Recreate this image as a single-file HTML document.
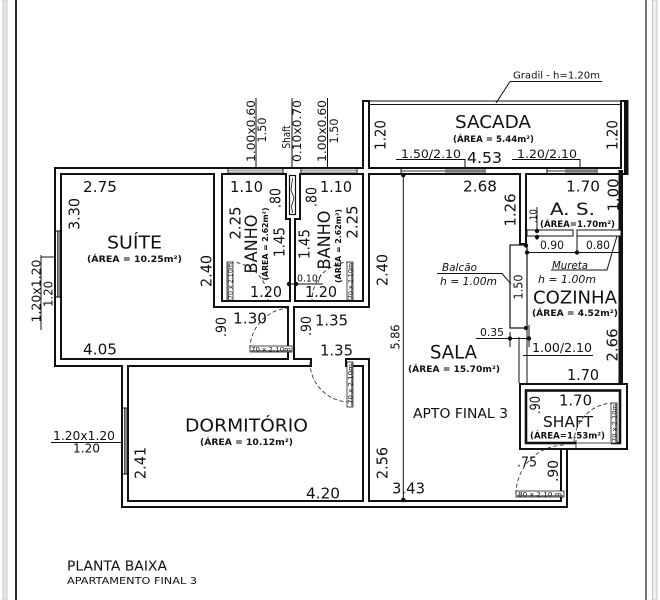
<!DOCTYPE html>
<html><head><meta charset="utf-8"><style>
html,body{margin:0;padding:0;background:#fff}
svg{display:block}
text{font-family:"DejaVu Sans","Liberation Sans",sans-serif;fill:#111}
.b{font-weight:bold}
.i{font-style:italic}
</style></head><body>
<svg width="660" height="600" viewBox="0 0 660 600" xmlns="http://www.w3.org/2000/svg">
<rect width="660" height="600" fill="#fff"/>
<!-- page borders -->
<rect x="3" y="0" width="4" height="600" fill="#e8e8e8" stroke="#bdbdbd" stroke-width="0.8"/>
<line x1="16" y1="0" x2="16" y2="600" stroke="#2a2a2a" stroke-width="2"/>
<line x1="646" y1="0" x2="646" y2="600" stroke="#444" stroke-width="1.5"/>
<rect x="652.5" y="0" width="4.5" height="600" fill="#efefef" stroke="#bbb" stroke-width="0.8"/>

<!-- walls black pass -->
<g fill="#111">
<rect x="54" y="167" width="574" height="8"/>
<rect x="54" y="167" width="8" height="200"/>
<rect x="54" y="358" width="258" height="9"/>
<rect x="213" y="167" width="10" height="141"/>
<rect x="213" y="300" width="157" height="8"/>
<rect x="289" y="167" width="7" height="141"/>
<rect x="362" y="100" width="8" height="208"/>
<rect x="345" y="358" width="25" height="9"/>
<rect x="362" y="358" width="8" height="150"/>
<rect x="121" y="358" width="8" height="150"/>
<rect x="121" y="500" width="447" height="8"/>
<rect x="560" y="448" width="8" height="60"/>
<rect x="519" y="167" width="8" height="78"/>
<rect x="519" y="383" width="109" height="67"/>
<rect x="287" y="300" width="8" height="67"/>
<rect x="285" y="167" width="16" height="53"/>
<rect x="620" y="100" width="8" height="75"/>
</g>
<!-- walls white pass -->
<g fill="#fff">
<rect x="56" y="169" width="570" height="4"/>
<rect x="56" y="169" width="4" height="196"/>
<rect x="56" y="360" width="254" height="5"/>
<rect x="215" y="169" width="6" height="137"/>
<rect x="215" y="302" width="153" height="4"/>
<rect x="291" y="169" width="3" height="137"/>
<rect x="364" y="102" width="4" height="204"/>
<rect x="347" y="360" width="21" height="5"/>
<rect x="364" y="360" width="4" height="146"/>
<rect x="123" y="360" width="4" height="146"/>
<rect x="123" y="502" width="443" height="4"/>
<rect x="562" y="450" width="4" height="56"/>
<rect x="521" y="169" width="4" height="74"/>
<rect x="521" y="385" width="105" height="63"/>
<rect x="289" y="302" width="4" height="63"/>
<rect x="287" y="169" width="12" height="49"/>
<rect x="622" y="102" width="4" height="71"/>
</g>
<!-- heavy black right walls -->
<rect x="624" y="100" width="4.5" height="75" fill="#111"/>
<rect x="618.5" y="170" width="4.5" height="215" fill="#111"/>

<!-- windows -->
<g stroke="#111" stroke-width="1">
<rect x="56" y="231" width="4" height="66" fill="#fff" stroke="none"/>
<rect x="57.3" y="231" width="2" height="66" fill="#888" stroke="#333" stroke-width="0.6"/>
<line x1="54" y1="231" x2="62" y2="231"/><line x1="54" y1="297" x2="62" y2="297"/>
<rect x="123" y="408" width="4" height="66" fill="#fff" stroke="none"/>
<rect x="124.3" y="408" width="2" height="66" fill="#888" stroke="#333" stroke-width="0.6"/>
<line x1="121" y1="408" x2="129" y2="408"/><line x1="121" y1="474" x2="129" y2="474"/>
<line x1="228" y1="167" x2="228" y2="175"/><line x1="283" y1="167" x2="283" y2="175"/>
<line x1="301" y1="167" x2="301" y2="175"/><line x1="357" y1="167" x2="357" y2="175"/>
<line x1="401" y1="167" x2="401" y2="175"/><line x1="485" y1="167" x2="485" y2="175"/>
<line x1="547" y1="167" x2="547" y2="175"/><line x1="597" y1="167" x2="597" y2="175"/>
</g>
<g stroke="#666" stroke-width="0.9">
<line x1="228" y1="170.2" x2="283" y2="170.2"/><line x1="228" y1="172.2" x2="283" y2="172.2"/>
<line x1="301" y1="170.2" x2="357" y2="170.2"/><line x1="301" y1="172.2" x2="357" y2="172.2"/>
<line x1="401" y1="171" x2="485" y2="171" stroke="#333"/>
<line x1="547" y1="171" x2="597" y2="171" stroke="#333"/>
</g>
<rect x="445" y="169.3" width="40" height="3.4" fill="#777"/>
<rect x="565" y="169.3" width="32" height="3.4" fill="#777"/>

<!-- shaft top -->
<rect x="289.5" y="175.5" width="6" height="39" fill="#fff" stroke="#111" stroke-width="1.2"/>
<path d="M292.5 178 L291 190 L294 198 L291.5 206 L292.5 213" fill="none" stroke="#111" stroke-width="0.8"/>

<!-- gradil -->
<g stroke="#111" stroke-width="1.1" fill="none">
<line x1="370" y1="101" x2="621" y2="101"/>
<line x1="370" y1="104.5" x2="621" y2="104.5"/>
</g>

<!-- shaft bottom-right -->
<rect x="526" y="390.5" width="94" height="52.5" fill="#fff" stroke="#111" stroke-width="2.6"/>
<rect x="576" y="440.5" width="35" height="5" fill="#fff"/>
<line x1="576" y1="443" x2="611" y2="443" stroke="#111" stroke-width="0.7"/>
<line x1="576" y1="440" x2="576" y2="450" stroke="#111" stroke-width="0.8"/>

<!-- thin lines / leaders -->
<g stroke="#111" stroke-width="1" fill="none">
<path d="M403.3 175 V500"/>
<path d="M510 81.5 H602 M510 81.5 L496 103"/>
<path d="M256 98 V167 M292 98 V167 M327.5 98 V167"/>
<path d="M396 159.5 H465 V168 M512 159.5 H580 V168"/>
<path d="M41 255 V330 M41 257 H54"/>
<path d="M51 442.5 H123"/>
<path d="M437 273.5 H502 L511 284"/>
<path d="M617 236 L607 270 H551"/>
<path d="M287 284 H323"/>
<path d="M476 338.5 H531 M510 332 V347 M529 325 V347"/>
<path d="M523 355.5 H593"/>
<path d="M527 252.5 H622 M577 236 V252.5"/>
<path d="M537 207 V240"/>
<path d="M527 245 V383 M519 337 V383"/>
<rect x="510" y="245" width="17" height="83" stroke-width="1.2"/>
<rect x="527" y="230" width="46" height="6" fill="#fff"/>
<rect x="577" y="230" width="44" height="6" fill="#fff"/>
</g>
<g fill="#111">
<circle cx="403.3" cy="175" r="2.3"/><circle cx="403.3" cy="500" r="2.3"/>
<circle cx="289" cy="284" r="2.2"/><circle cx="296" cy="284" r="2.2"/>
<circle cx="537" cy="231" r="2.2"/><circle cx="537" cy="237" r="2.2"/>
<circle cx="526" cy="245.5" r="2.2"/><circle cx="527" cy="252.5" r="2.2"/>
<circle cx="577" cy="252.5" r="2.2"/><circle cx="621" cy="252.5" r="2.2"/>
<circle cx="526" cy="328" r="2.2"/><circle cx="510" cy="338.5" r="2.2"/><circle cx="529" cy="338.5" r="2.2"/>
</g>

<!-- door arcs -->
<g stroke="#222" stroke-width="0.8" fill="none" stroke-dasharray="4 2.5">
<path d="M230 262 A38 38 0 0 1 268 300"/>
<path d="M350 262 A38 38 0 0 0 312 300"/>
<path d="M250 349 A41 41 0 0 1 291 308"/>
<path d="M310 362 A40 40 0 0 0 350 402"/>
<path d="M574 443 A40 40 0 0 1 614 403"/>
<path d="M516 494 A49 49 0 0 1 565 445"/>
</g>
<!-- door leaves -->
<g stroke="#222" stroke-width="0.8" fill="#fff">
<rect x="227" y="262" width="6" height="38"/>
<rect x="347" y="262" width="6" height="38"/>
<rect x="250" y="346" width="42" height="6"/>
<rect x="347" y="362" width="6" height="45"/>
<rect x="611" y="403" width="6" height="40"/>
<rect x="516" y="491" width="48" height="6"/>
</g>
<g fill="#888">
<rect x="227.5" y="262" width="1.5" height="38"/>
<rect x="351" y="262" width="1.5" height="38"/>
<rect x="250" y="350" width="42" height="1.5"/>
<rect x="351" y="362" width="1.5" height="45"/>
<rect x="615" y="403" width="1.5" height="40"/>
<rect x="516" y="495" width="48" height="1.5"/>
</g>

<!-- horizontal texts -->
<g>
<text x="513" y="78.6" font-size="10" textLength="87" lengthAdjust="spacingAndGlyphs">Gradil - h=1.20m</text>
<text x="455" y="128" font-size="18" textLength="76" lengthAdjust="spacingAndGlyphs">SACADA</text>
<text class="b" x="453" y="142" font-size="8.5" textLength="81" lengthAdjust="spacingAndGlyphs">(ÁREA = 5.44m²)</text>
<text x="401" y="158" font-size="11.5" textLength="60" lengthAdjust="spacingAndGlyphs">1.50/2.10</text>
<text x="467" y="163" font-size="15" textLength="35" lengthAdjust="spacingAndGlyphs">4.53</text>
<text x="517" y="158" font-size="11.5" textLength="60" lengthAdjust="spacingAndGlyphs">1.20/2.10</text>
<text x="83" y="192" font-size="15" textLength="34" lengthAdjust="spacingAndGlyphs">2.75</text>
<text x="107" y="248.5" font-size="18" textLength="55" lengthAdjust="spacingAndGlyphs">SUÍTE</text>
<text class="b" x="87" y="262" font-size="8.5" textLength="95" lengthAdjust="spacingAndGlyphs">(ÁREA = 10.25m²)</text>
<text x="83" y="354.5" font-size="15" textLength="34" lengthAdjust="spacingAndGlyphs">4.05</text>
<text x="230" y="192" font-size="15" textLength="33" lengthAdjust="spacingAndGlyphs">1.10</text>
<text x="250" y="297" font-size="15" textLength="32" lengthAdjust="spacingAndGlyphs">1.20</text>
<text x="320" y="192" font-size="15" textLength="32" lengthAdjust="spacingAndGlyphs">1.10</text>
<text x="297" y="281.5" font-size="10" textLength="24" lengthAdjust="spacingAndGlyphs">0.10/</text>
<text x="305" y="297" font-size="15" textLength="32" lengthAdjust="spacingAndGlyphs">1.20</text>
<text x="233" y="323.5" font-size="15" textLength="34" lengthAdjust="spacingAndGlyphs">1.30</text>
<text x="315" y="325.5" font-size="15" textLength="33" lengthAdjust="spacingAndGlyphs">1.35</text>
<text x="320" y="355.5" font-size="15" textLength="33" lengthAdjust="spacingAndGlyphs">1.35</text>
<text x="463" y="191.5" font-size="15" textLength="34" lengthAdjust="spacingAndGlyphs">2.68</text>
<text class="i" x="442" y="271" font-size="11" textLength="35" lengthAdjust="spacingAndGlyphs">Balcão</text>
<text class="i" x="440" y="285" font-size="11" textLength="57" lengthAdjust="spacingAndGlyphs">h = 1.00m</text>
<text x="480" y="336" font-size="11" textLength="24" lengthAdjust="spacingAndGlyphs">0.35</text>
<text x="430" y="358.5" font-size="18.5" textLength="47" lengthAdjust="spacingAndGlyphs">SALA</text>
<text class="b" x="408" y="372" font-size="8.5" textLength="92" lengthAdjust="spacingAndGlyphs">(ÁREA = 15.70m²)</text>
<text x="413" y="418" font-size="13" textLength="95" lengthAdjust="spacingAndGlyphs">APTO FINAL 3</text>
<text x="392" y="493.5" font-size="15" textLength="33" lengthAdjust="spacingAndGlyphs">3.43</text>
<text x="566" y="191.5" font-size="15" textLength="34" lengthAdjust="spacingAndGlyphs">1.70</text>
<text x="550" y="215" font-size="17" textLength="45" lengthAdjust="spacingAndGlyphs">A. S.</text>
<text class="b" x="540" y="227" font-size="8.5" textLength="75" lengthAdjust="spacingAndGlyphs">(ÁREA=1.70m²)</text>
<text x="540" y="249" font-size="11.5" textLength="24" lengthAdjust="spacingAndGlyphs">0.90</text>
<text x="586" y="249" font-size="11.5" textLength="24" lengthAdjust="spacingAndGlyphs">0.80</text>
<text class="i" x="552" y="269" font-size="10.5" textLength="36" lengthAdjust="spacingAndGlyphs">Mureta</text>
<text class="i" x="538" y="283" font-size="11" textLength="58" lengthAdjust="spacingAndGlyphs">h = 1.00m</text>
<text x="533" y="303.5" font-size="18" textLength="84" lengthAdjust="spacingAndGlyphs">COZINHA</text>
<text class="b" x="532" y="316" font-size="8.5" textLength="86" lengthAdjust="spacingAndGlyphs">(ÁREA = 4.52m²)</text>
<text x="532" y="352" font-size="12" textLength="60" lengthAdjust="spacingAndGlyphs">1.00/2.10</text>
<text x="567" y="380" font-size="15" textLength="32" lengthAdjust="spacingAndGlyphs">1.70</text>
<text x="559" y="405.5" font-size="15" textLength="33" lengthAdjust="spacingAndGlyphs">1.70</text>
<text x="543" y="427" font-size="15.5" textLength="50" lengthAdjust="spacingAndGlyphs">SHAFT</text>
<text class="b" x="530" y="438.5" font-size="8.5" textLength="75" lengthAdjust="spacingAndGlyphs">(ÁREA=1.53m²)</text>
<text x="517" y="466.5" font-size="13" textLength="20" lengthAdjust="spacingAndGlyphs">.75</text>
<text x="518" y="496.3" font-size="6.5" textLength="44" lengthAdjust="spacingAndGlyphs">80 x 2.10 m</text>
<text x="185" y="431.5" font-size="18" textLength="123" lengthAdjust="spacingAndGlyphs">DORMITÓRIO</text>
<text class="b" x="200" y="445" font-size="8.5" textLength="93" lengthAdjust="spacingAndGlyphs">(ÁREA = 10.12m²)</text>
<text x="306" y="498.5" font-size="15" textLength="34" lengthAdjust="spacingAndGlyphs">4.20</text>
<text x="53" y="440" font-size="12" textLength="62" lengthAdjust="spacingAndGlyphs">1.20x1.20</text>
<text x="73" y="452.5" font-size="12" textLength="27" lengthAdjust="spacingAndGlyphs">1.20</text>
<text x="67" y="570.5" font-size="13.5" textLength="100" lengthAdjust="spacingAndGlyphs">PLANTA BAIXA</text>
<text x="67" y="584" font-size="10" textLength="130" lengthAdjust="spacingAndGlyphs">APARTAMENTO FINAL 3</text>
<text x="251" y="351.3" font-size="6.5" textLength="40" lengthAdjust="spacingAndGlyphs">70 x 2.10m</text>
</g>

<!-- rotated texts -->
<g>
<text x="220" y="135.1" font-size="11.5" textLength="62" lengthAdjust="spacingAndGlyphs" transform="rotate(-90 251 131)">1.00x0.60</text>
<text x="249.5" y="134.1" font-size="11.5" textLength="25" lengthAdjust="spacingAndGlyphs" transform="rotate(-90 262 130)">1.50</text>
<text x="274.5" y="141" font-size="11" textLength="23" lengthAdjust="spacingAndGlyphs" transform="rotate(-90 286 137)">Shaft</text>
<text x="266" y="135.1" font-size="11.5" textLength="62" lengthAdjust="spacingAndGlyphs" transform="rotate(-90 297 131)">0.10x0.70</text>
<text x="291" y="135.1" font-size="11.5" textLength="62" lengthAdjust="spacingAndGlyphs" transform="rotate(-90 322 131)">1.00x0.60</text>
<text x="321.5" y="135.1" font-size="11.5" textLength="25" lengthAdjust="spacingAndGlyphs" transform="rotate(-90 334 131)">1.50</text>
<text x="365" y="140.4" font-size="15" textLength="30" lengthAdjust="spacingAndGlyphs" transform="rotate(-90 380 135)">1.20</text>
<text x="597" y="140.4" font-size="15" textLength="30" lengthAdjust="spacingAndGlyphs" transform="rotate(-90 612 135)">1.20</text>
<text x="58" y="219.4" font-size="15" textLength="32" lengthAdjust="spacingAndGlyphs" transform="rotate(-90 74 214)">3.30</text>
<text x="190" y="276.4" font-size="15" textLength="32" lengthAdjust="spacingAndGlyphs" transform="rotate(-90 206 271)">2.40</text>
<text x="4.5" y="295.3" font-size="12" textLength="63" lengthAdjust="spacingAndGlyphs" transform="rotate(-90 36 291)">1.20x1.20</text>
<text x="35" y="298.3" font-size="12" textLength="26" lengthAdjust="spacingAndGlyphs" transform="rotate(-90 48 294)">1.20</text>
<text x="265" y="203.4" font-size="15" textLength="20" lengthAdjust="spacingAndGlyphs" transform="rotate(-90 275 198)">.80</text>
<text x="218.5" y="228.4" font-size="15" textLength="33" lengthAdjust="spacingAndGlyphs" transform="rotate(-90 235 223)">2.25</text>
<text x="221.5" y="250" font-size="16.5" textLength="59" lengthAdjust="spacingAndGlyphs" transform="rotate(-90 251 244)">BANHO</text>
<text class="b" x="228.5" y="246.9" font-size="8" textLength="73" lengthAdjust="spacingAndGlyphs" transform="rotate(-90 265 244)">(ÁREA = 2.62m²)</text>
<text x="264" y="247.4" font-size="15" textLength="30" lengthAdjust="spacingAndGlyphs" transform="rotate(-90 279 242)">1.45</text>
<text x="301" y="202.4" font-size="15" textLength="20" lengthAdjust="spacingAndGlyphs" transform="rotate(-90 311 197)">.80</text>
<text x="335.5" y="227.4" font-size="15" textLength="33" lengthAdjust="spacingAndGlyphs" transform="rotate(-90 352 222)">2.25</text>
<text x="294.5" y="246" font-size="16.5" textLength="59" lengthAdjust="spacingAndGlyphs" transform="rotate(-90 324 240)">BANHO</text>
<text class="b" x="301" y="248.9" font-size="8" textLength="74" lengthAdjust="spacingAndGlyphs" transform="rotate(-90 338 246)">(ÁREA = 2.62m²)</text>
<text x="289" y="249.4" font-size="15" textLength="30" lengthAdjust="spacingAndGlyphs" transform="rotate(-90 304 244)">1.45</text>
<text x="212" y="283.3" font-size="6.5" textLength="36" lengthAdjust="spacingAndGlyphs" transform="rotate(-90 230 281)">70 x 2.10m</text>
<text x="332" y="283.3" font-size="6.5" textLength="36" lengthAdjust="spacingAndGlyphs" transform="rotate(-90 350 281)">70 x 2.10m</text>
<text x="211" y="332" font-size="14" textLength="20" lengthAdjust="spacingAndGlyphs" transform="rotate(-90 221 327)">.90</text>
<text x="296" y="331" font-size="14" textLength="20" lengthAdjust="spacingAndGlyphs" transform="rotate(-90 306 326)">.90</text>
<text x="330" y="386.3" font-size="6.5" textLength="40" lengthAdjust="spacingAndGlyphs" transform="rotate(-90 350 384)">70 x 2.10m</text>
<text x="366" y="275.4" font-size="15" textLength="32" lengthAdjust="spacingAndGlyphs" transform="rotate(-90 382 270)">2.40</text>
<text x="493.5" y="215.4" font-size="15" textLength="33" lengthAdjust="spacingAndGlyphs" transform="rotate(-90 510 210)">1.26</text>
<text x="596.5" y="200.4" font-size="15" textLength="33" lengthAdjust="spacingAndGlyphs" transform="rotate(-90 613 195)">1.00</text>
<text x="526" y="219.6" font-size="10" textLength="14" lengthAdjust="spacingAndGlyphs" transform="rotate(-90 533 216)">.10</text>
<text x="505.5" y="291.3" font-size="12" textLength="25" lengthAdjust="spacingAndGlyphs" transform="rotate(-90 518 287)">1.50</text>
<text x="382.5" y="341.3" font-size="12" textLength="25" lengthAdjust="spacingAndGlyphs" transform="rotate(-90 395 337)">5.86</text>
<text x="595.5" y="350.4" font-size="15" textLength="33" lengthAdjust="spacingAndGlyphs" transform="rotate(-90 612 345)">2.66</text>
<text x="526" y="410" font-size="14" textLength="18" lengthAdjust="spacingAndGlyphs" transform="rotate(-90 535 405)">.90</text>
<text x="595" y="425.3" font-size="6.5" textLength="38" lengthAdjust="spacingAndGlyphs" transform="rotate(-90 614 423)">70 x 2.10m</text>
<text x="542" y="476" font-size="14" textLength="22" lengthAdjust="spacingAndGlyphs" transform="rotate(-90 553 471)">.90</text>
<text x="366" y="468.4" font-size="15" textLength="32" lengthAdjust="spacingAndGlyphs" transform="rotate(-90 382 463)">2.56</text>
<text x="124" y="468.4" font-size="15" textLength="32" lengthAdjust="spacingAndGlyphs" transform="rotate(-90 140 463)">2.41</text>
</g>
</svg>
</body></html>
